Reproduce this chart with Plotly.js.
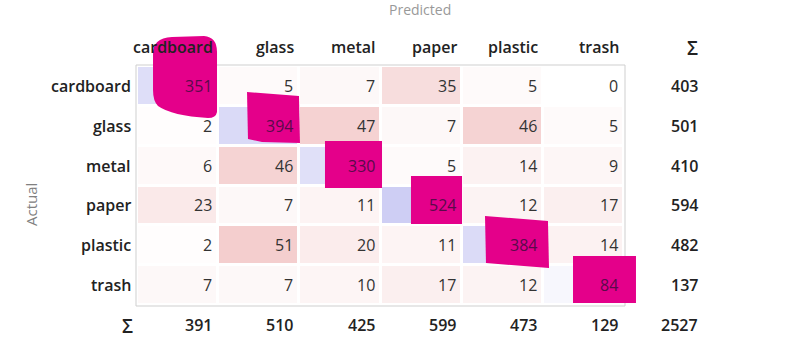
<!DOCTYPE html>
<html><head><meta charset="utf-8">
<script src="https://cdn.plot.ly/plotly-3.0.1.min.js"></script>
<style>html,body{margin:0;padding:0;background:#fff;} #chart{width:794px;height:358px;}</style>
</head><body><div id="chart"></div>
<script>
// ---- data ----
const classes = ['cardboard', 'glass', 'metal', 'paper', 'plastic', 'trash'];
const matrix = [
  [351,   5,   7,  35,   5,   0],
  [  2, 394,  47,   7,  46,   5],
  [  6,  46, 330,   5,  14,   9],
  [ 23,   7,  11, 524,  12,  17],
  [  2,  51,  20,  11, 384,  14],
  [  7,   7,  10,  17,  12,  84]
];
const rowTotals = [403, 501, 410, 594, 482, 137];
const colTotals = [391, 510, 425, 599, 473, 129];
const grandTotal = 2527;
const sumLabel = 'Σ';
const xTitle = 'Predicted';
const yTitle = 'Actual';

// ---- layout geometry (pixels) ----
const W = 794, H = 358;
const L = 137, R = 624, T = 66, B = 305;
const pw = R - L, ph = B - T;
const px = x => (x - L) / pw;
const py = y => (B - y) / ph;

const n = classes.length;
// Orange-style colouring: off-diagonal normalised by max off-diagonal, diagonal by max diagonal
let maxOff = 0, maxDiag = 0;
matrix.forEach((r, i) => r.forEach((v, j) => { if (i === j) maxDiag = Math.max(maxDiag, v); else maxOff = Math.max(maxOff, v); }));
const zOff = matrix.map((r, i) => r.map((v, j) => i === j ? null : v / maxOff));
const zDiag = matrix.map((r, i) => r.map((v, j) => i === j ? v / maxDiag : null));
const xs = classes.map((c, j) => j);
const ys = classes.map((c, i) => i);

const common = {type: 'heatmap', x: xs, y: ys, xgap: 3, ygap: 3, zmin: 0, zmax: 1, showscale: false, hoverinfo: 'skip'};
const traces = [
  Object.assign({}, common, {z: zOff, colorscale: [[0, 'rgb(255,255,255)'], [1, 'rgb(244,206,206)']]}),
  Object.assign({}, common, {z: zDiag, colorscale: [[0, 'rgb(255,255,255)'], [1, 'rgb(206,206,244)']]})
];

const FONT = 'Open Sans, Noto Sans, sans-serif';
const valFont = {family: FONT, size: 16, color: '#333'};
const boldFont = {family: FONT, size: 16, color: '#222', weight: 600};
const sigmaFont = {family: FONT, size: 19, color: '#222', weight: 600};
const ann = [];
// cell values
matrix.forEach((r, i) => r.forEach((v, j) => {
  ann.push({x: j + 0.5, y: i, xref: 'x', yref: 'y', text: String(v), showarrow: false,
    xanchor: 'right', yanchor: 'middle', xshift: -4,
    font: Object.assign({}, valFont, i === j ? {color: '#5a0a4a'} : {})});
}));
// column headers
classes.forEach((c, j) => ann.push({x: j + 0.5, y: py(47), xref: 'x', yref: 'paper', text: c, showarrow: false,
  xanchor: 'right', yanchor: 'middle', xshift: -3, font: boldFont}));
// row headers
classes.forEach((c, i) => ann.push({x: 0, y: i, xref: 'paper', yref: 'y', text: c, showarrow: false,
  xanchor: 'right', yanchor: 'middle', xshift: -4, font: boldFont}));
// row totals
rowTotals.forEach((v, i) => ann.push({x: px(700), y: i, xref: 'paper', yref: 'y', text: String(v), showarrow: false,
  xanchor: 'right', yanchor: 'middle', font: boldFont}));
// column totals
colTotals.forEach((v, j) => ann.push({x: j + 0.5, y: py(325), xref: 'x', yref: 'paper', text: String(v), showarrow: false,
  xanchor: 'right', yanchor: 'middle', xshift: -4, font: boldFont}));
ann.push({x: px(700), y: py(325), xref: 'paper', yref: 'paper', text: String(grandTotal), showarrow: false,
  xanchor: 'right', yanchor: 'middle', font: boldFont});
ann.push({x: px(127), y: py(326), xref: 'paper', yref: 'paper', text: sumLabel, showarrow: false,
  xanchor: 'center', yanchor: 'middle', font: sigmaFont});
ann.push({x: px(692), y: py(48), xref: 'paper', yref: 'paper', text: sumLabel, showarrow: false,
  xanchor: 'center', yanchor: 'middle', font: sigmaFont});
// axis titles
ann.push({x: px(420), y: py(9), xref: 'paper', yref: 'paper', text: xTitle, showarrow: false,
  xanchor: 'center', yanchor: 'middle', font: {family: FONT, size: 14, color: '#999'}});
ann.push({x: px(31), y: py(205), xref: 'paper', yref: 'paper', text: yTitle, showarrow: false, textangle: -90,
  xanchor: 'center', yanchor: 'middle', font: {family: FONT, size: 15, color: '#808080'}});

// hand-drawn magenta highlights over the diagonal (in pixel space)
const P = (x, y) => `${px(x).toFixed(4)},${py(y).toFixed(4)}`;
const scribbles = [
  `M${P(153,55)} Q${P(152,38)} ${P(172,37)} L${P(204,36)} Q${P(217,37)} ${P(217,52)} L${P(217,112)} Q${P(216,118)} ${P(208,118)} Q${P(172,116)} ${P(158,106)} Q${P(153,101)} ${P(153,90)} Z`,
  `M${P(247,92)} L${P(299,96)} L${P(300,143)} L${P(262,142)} L${P(248,139)} Z`,
  `M${P(325,141)} L${P(382,141)} L${P(382,188)} L${P(325,188)} Z`,
  `M${P(411,176)} L${P(462,176)} L${P(462,224)} L${P(411,224)} Z`,
  `M${P(485,216)} L${P(548,221)} L${P(549,268)} L${P(486,263)} Z`,
  `M${P(573,256)} L${P(636,256)} L${P(636,303)} L${P(573,303)} Z`
];
const shapes = [
  {type: 'rect', xref: 'paper', yref: 'paper', x0: px(136), x1: px(625), y0: py(306), y1: py(65),
   line: {color: '#cfcfcf', width: 1}, fillcolor: 'rgba(0,0,0,0)', layer: 'below'}
];
scribbles.forEach(p => shapes.push({type: 'path', xref: 'paper', yref: 'paper', path: p,
  fillcolor: 'rgb(228,0,138)', line: {width: 0}, layer: 'above'}));

const layout = {
  width: W, height: H,
  margin: {l: L, r: W - R, t: T, b: H - B, pad: 0},
  paper_bgcolor: '#fff', plot_bgcolor: '#fff',
  xaxis: {range: [-0.5, n - 0.5], showticklabels: false, showgrid: false, zeroline: false, ticks: '', fixedrange: true},
  yaxis: {range: [n - 0.5, -0.5], showticklabels: false, showgrid: false, zeroline: false, ticks: '', fixedrange: true},
  annotations: ann,
  shapes: shapes,
  showlegend: false
};
Plotly.newPlot('chart', traces, layout, {displayModeBar: false, staticPlot: true});
</script></body></html>
